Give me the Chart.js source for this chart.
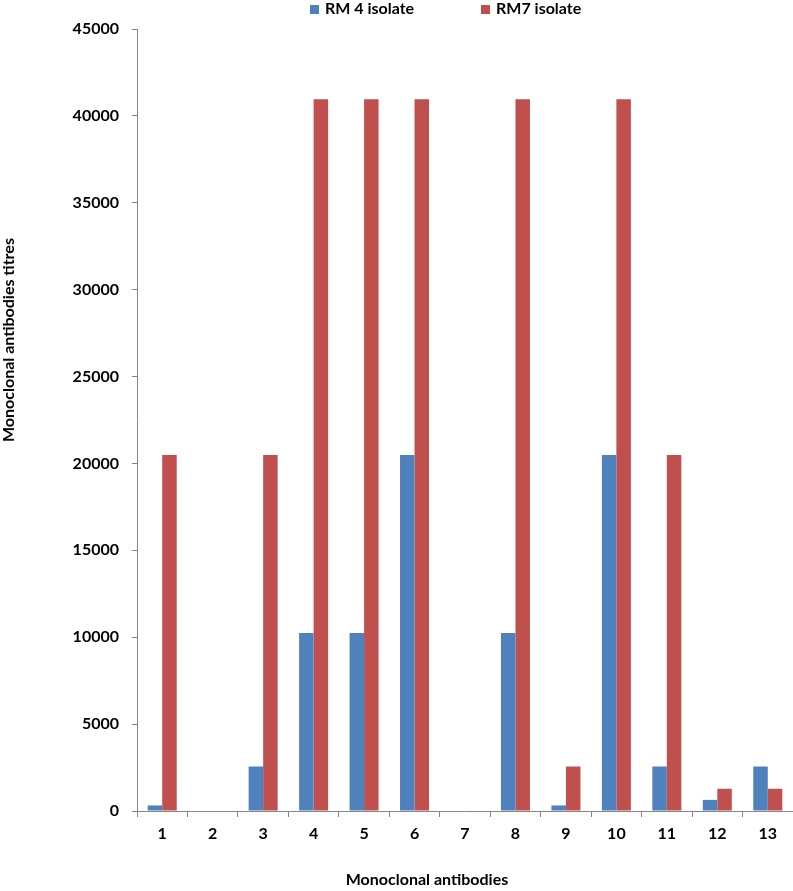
<!DOCTYPE html>
<html>
<head>
<meta charset="utf-8">
<script src="https://cdn.jsdelivr.net/npm/chart.js@4/dist/chart.umd.min.js"></script>
<style>
  html, body { margin: 0; padding: 0; background: #fff; }
  #wrap { position: relative; width: 793px; height: 891px; }
  .txt { position: absolute; font: bold 16px Lato, sans-serif; color: #000; white-space: nowrap; line-height: 16px; }
  .txt i { display: inline-block; width: 9px; height: 9px; margin-right: 6px; vertical-align: 0px; }
  #ytitle { left: 8px; top: 340px; transform: translate(-50%, -50%) rotate(-90deg); }
  #xtitle { left: 427px; top: 879px; transform: translate(-50%, -50%); }
</style>
</head>
<body>
<div id="wrap">
  <canvas id="chart" width="793" height="891"></canvas>
  <div id="ytitle" class="txt">Monoclonal antibodies titres</div>
  <div id="xtitle" class="txt">Monoclonal antibodies</div>
</div>
<script>
const categories = ['1','2','3','4','5','6','7','8','9','10','11','12','13'];
const rm4 = [320, 0, 2560, 10240, 10240, 20480, 0, 10240, 320, 20480, 2560, 640, 2560];
const rm7 = [20480, 0, 20480, 40960, 40960, 40960, 0, 40960, 2560, 40960, 20480, 1280, 1280];
const seriesNames = ['RM 4 isolate', 'RM7 isolate'];
const colors = ['#4f81bd', '#c0504d'];

// legend drawn as html, at the place it sits in the original
const wrap = document.getElementById('wrap');
const legendLeft = [310, 481];
seriesNames.forEach((name, i) => {
    const s = document.createElement('div');
    s.className = 'txt';
    s.style.left = legendLeft[i] + 'px';
    s.style.top = '0px';
    s.innerHTML = '<i style="background:' + colors[i] + '"></i>' + name;
    wrap.appendChild(s);
});

const font = { family: 'Lato, sans-serif', weight: 'bold', size: 16 };
const axisColor = '#868686';

new Chart(document.getElementById('chart'), {
    type: 'bar',
    data: {
        labels: categories,
        datasets: [
            { label: seriesNames[0], data: rm4, backgroundColor: colors[0] },
            { label: seriesNames[1], data: rm7, backgroundColor: colors[1] }
        ]
    },
    options: {
        responsive: false,
        animation: false,
        layout: { padding: { top: 29, right: 0, left: 0, bottom: 0 } },
        datasets: { bar: { barPercentage: 1, categoryPercentage: 0.575 } },
        plugins: {
            legend: { display: false },
            tooltip: { enabled: false }
        },
        scales: {
            x: {
                afterFit: scale => { scale.height = 80; },
                grid: { offset: true, drawOnChartArea: false, tickLength: 6, color: axisColor },
                border: { color: axisColor },
                ticks: { color: '#000', font: font, padding: 7 }
            },
            y: {
                min: 0,
                max: 45000,
                afterFit: scale => { scale.width = 137; },
                grid: { drawOnChartArea: false, tickLength: 5, color: axisColor },
                border: { color: axisColor },
                ticks: { stepSize: 5000, color: '#000', font: font, padding: 13, callback: v => String(v) }
            }
        }
    }
});
</script>
</body>
</html>
